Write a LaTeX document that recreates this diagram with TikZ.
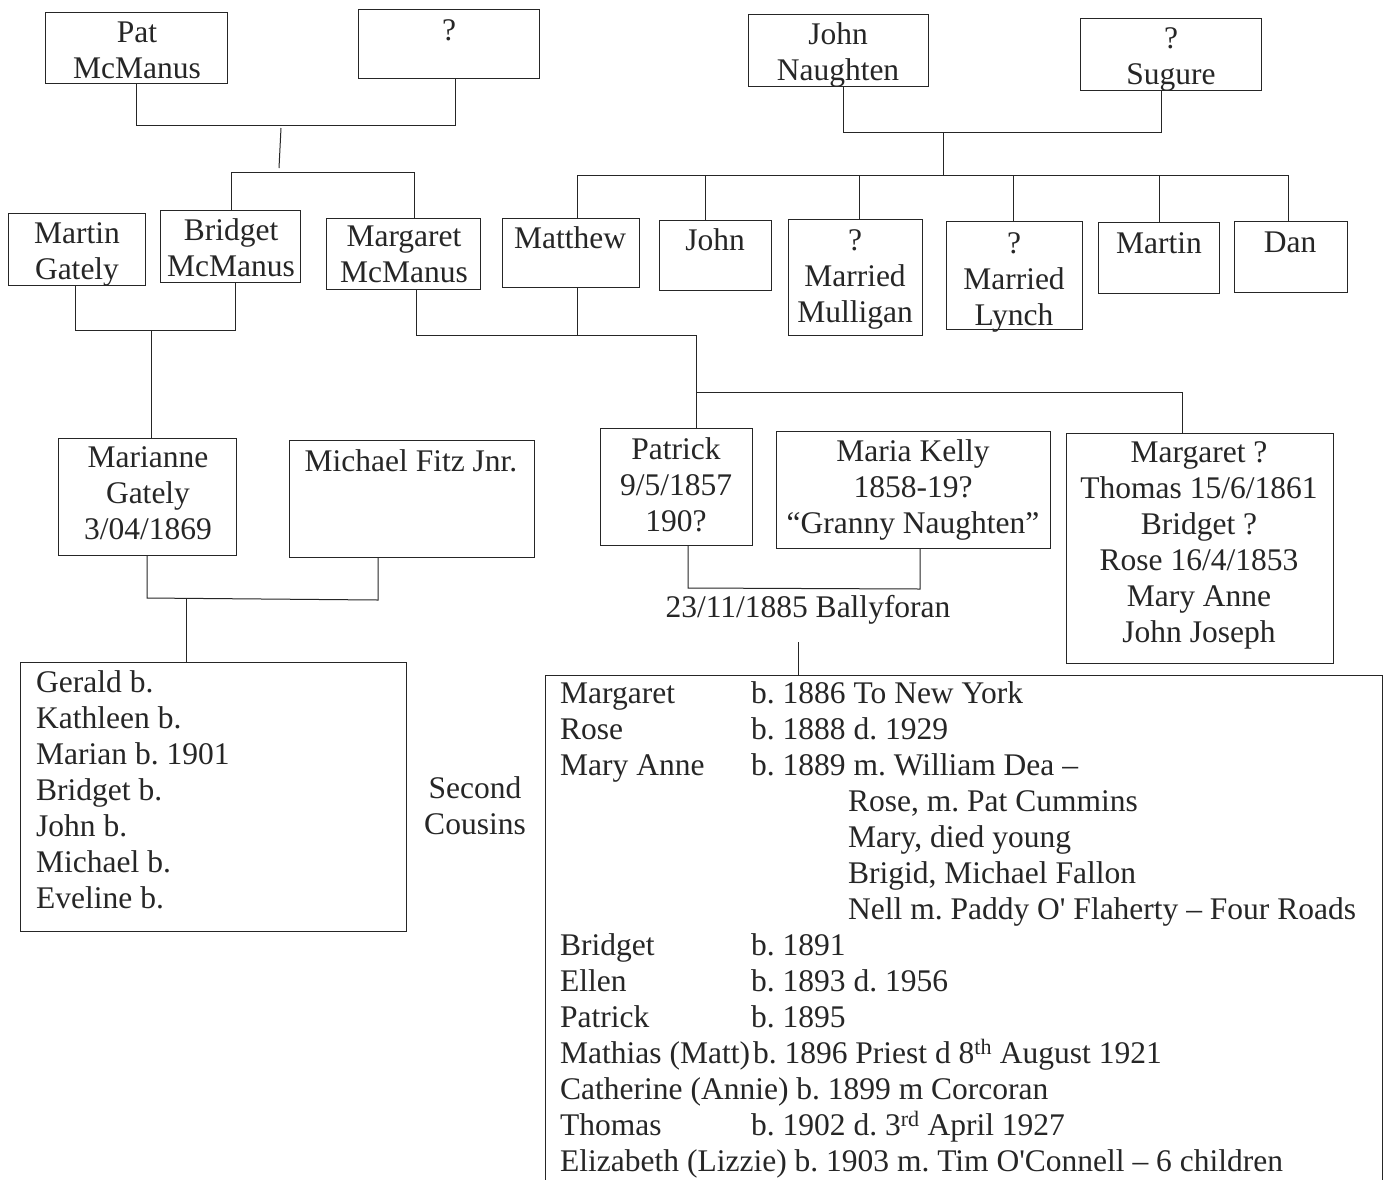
\documentclass[tikz,border=0pt]{standalone}
\usepackage{fontspec}
\setmainfont{Liberation Serif}
\usetikzlibrary{fit}
\definecolor{ink}{HTML}{262626}
\newcommand\fs{\fontsize{31.5}{36}\selectfont\frenchspacing}
\begin{document}
\begin{tikzpicture}[x=1pt,y=-1pt,
 box/.style={draw=ink, line width=1pt, inner sep=0pt},
 txt/.style={anchor=north, inner sep=0pt, align=center, font=\fs, text=ink},
 ltxt/.style={anchor=north west, inner sep=0pt, align=left, font=\fs, text=ink},
 link/.style={draw=ink, line width=1pt}]
\useasboundingbox (0,0) rectangle (1390,1179);
\clip (0,0) rectangle (1390,1179);
\fill[white] (0,0) rectangle (1390,1179);

% ---------- boxes ----------
\node[box, fit={(45,12) (227,83)}] (pat) {};
\node[box, fit={(358,9) (539,78)}] (q) {};
\node[box, fit={(748,14) (928,86)}] (johnN) {};
\node[box, fit={(1080,18) (1261,90)}] (sugure) {};
\node[box, fit={(8,213) (145,285)}] (martin) {};
\node[box, fit={(160,210) (300,282)}] (bridget) {};
\node[box, fit={(326,218) (480,289)}] (margaret) {};
\node[box, fit={(502,218) (639,287)}] (matthew) {};
\node[box, fit={(659,220) (771,290)}] (johnC) {};
\node[box, fit={(788,219) (922,335)}] (mulligan) {};
\node[box, fit={(946,221) (1082,329)}] (lynch) {};
\node[box, fit={(1098,222) (1219,293)}] (martinC) {};
\node[box, fit={(1234,221) (1347,292)}] (dan) {};
\node[box, fit={(58,438) (236,555)}] (marianne) {};
\node[box, fit={(289,440) (534,557)}] (michael) {};
\node[box, fit={(600,428) (752,545)}] (patrick) {};
\node[box, fit={(776,431) (1050,548)}] (maria) {};
\node[box, fit={(1066,433) (1333,663)}] (sibs) {};
\node[box, fit={(20,662) (406,931)}] (kids) {};
\node[box, fit={(545,675) (1382,1200)}] (big) {};

% ---------- texts ----------
\node[txt] (pat-t) at (137,16.8) {\strut Pat\\McManus};
\node[txt] (q-t) at (449,14.8) {\strut ?};
\node[txt] (jn-t) at (838,18.8) {\strut John\\Naughten};
\node[txt] (su-t) at (1171,22.8) {\strut ?\\Sugure};
\node[txt] (ma-t) at (77,217.8) {\strut Martin\\Gately};
\node[txt] (br-t) at (231,214.8) {\strut Bridget\\McManus};
\node[txt] (mg-t) at (404,220.8) {\strut Margaret\\McManus};
\node[txt] (mt-t) at (570,222.8) {\strut Matthew};
\node[txt] (jc-t) at (715,224.8) {\strut John};
\node[txt] (mu-t) at (855,224.8) {\strut ?\\Married\\Mulligan};
\node[txt] (ly-t) at (1014,227.8) {\strut ?\\Married\\Lynch};
\node[txt] (mc-t) at (1159,227.8) {\strut Martin};
\node[txt] (dn-t) at (1290,226.8) {\strut Dan};
\node[txt] (mr-t) at (148,441.8) {\strut Marianne\\Gately\\3/04/1869};
\node[txt] (mi-t) at (411,445.8) {\strut Michael Fitz Jnr.};
\node[txt] (pa-t) at (676,433.8) {\strut Patrick\\9/5/1857\\190?};
\node[txt] (mk-t) at (913,435.8) {\strut Maria Kelly\\1858-19?\\“Granny Naughten”};
\node[txt] (sb-t) at (1199,436.8) {\strut Margaret ?\\Thomas 15/6/1861\\Bridget ?\\Rose 16/4/1853\\Mary Anne\\John Joseph};
\node[txt] (date) at (808,591.8) {\strut 23/11/1885 Ballyforan};
\node[txt] (sc) at (475,772.8) {\strut Second\\Cousins};
\node[ltxt] (kids-t) at (36,666.8) {\strut Gerald b.\\Kathleen b.\\Marian b. 1901\\Bridget b.\\John b.\\Michael b.\\Eveline b.};
\node[ltxt] (big-t) at (560,677.8) {\strut\makebox[191pt][l]{Margaret}b. 1886 To New York\\
\makebox[191pt][l]{Rose}b. 1888 d. 1929\\
\makebox[191pt][l]{Mary Anne}b. 1889 m. William Dea –\\
\hspace*{288pt}Rose, m. Pat Cummins\\
\hspace*{288pt}Mary, died young\\
\hspace*{288pt}Brigid, Michael Fallon\\
\hspace*{288pt}Nell m. Paddy O\textquotesingle{} Flaherty – Four Roads\\
\makebox[191pt][l]{Bridget}b. 1891\\
\makebox[191pt][l]{Ellen}b. 1893 d. 1956\\
\makebox[191pt][l]{Patrick}b. 1895\\
Mathias (Matt)\hspace{3pt}b. 1896 Priest d 8\textsuperscript{th} August 1921\\
Catherine (Annie) b. 1899 m Corcoran\\
\makebox[191pt][l]{Thomas}b. 1902 d. 3\textsuperscript{rd} April 1927\\
Elizabeth (Lizzie) b. 1903 m. Tim O\textquotesingle Connell – 6 children};

% ---------- connectors: McManus side ----------
\coordinate (j1) at (455,125);
\draw[link] (pat.south) |- (j1) -- (j1 |- q.south);
\coordinate (s1) at (281,128);
\coordinate (s2) at (279,168);
\draw[link] (s1) -- (s2);
\coordinate (b1) at (231,172);
\coordinate (b2) at (414,172);
\draw[link] (b1 |- bridget.north) -- (b1) -- (b2) -- (b2 |- margaret.north);
\coordinate (mg1) at (75,330);
\coordinate (mg2) at (235,330);
\coordinate (mg3) at (151,330);
\draw[link] (mg1 |- martin.south) -- (mg1) -- (mg2) -- (mg2 |- bridget.south);
\draw[link] (mg3) -- (mg3 |- marianne.north);
\coordinate (mf1) at (147,598);
\coordinate (mf2) at (378,600);
\coordinate (mf3) at (186,599);
\draw[link] (mf1 |- marianne.south) -- (mf1) -- (mf2) -- (mf2 |- michael.south);
\draw[link] (mf3) -- (mf3 |- kids.north);

% ---------- connectors: Naughten side ----------
\coordinate (jn1) at (843,132);
\coordinate (jn2) at (1161,132);
\coordinate (jn3) at (943,132);
\coordinate (jn4) at (943,175);
\draw[link] (jn1 |- johnN.south) -- (jn1) -- (jn2) -- (jn2 |- sugure.south);
\draw[link] (jn3) -- (jn4);
\coordinate (r1) at (577,175);
\coordinate (r2) at (705,175);
\coordinate (r3) at (859,175);
\coordinate (r4) at (1013,175);
\coordinate (r5) at (1159,175);
\coordinate (r6) at (1288,175);
\draw[link] (r1) -- (r6);
\draw[link] (r1) -- (r1 |- matthew.north);
\draw[link] (r2) -- (r2 |- johnC.north);
\draw[link] (r3) -- (r3 |- mulligan.north);
\draw[link] (r4) -- (r4 |- lynch.north);
\draw[link] (r5) -- (r5 |- martinC.north);
\draw[link] (r6) -- (r6 |- dan.north);

\coordinate (mm1) at (416,335);
\coordinate (mm2) at (696,335);
\coordinate (mm3) at (577,335);
\draw[link] (mm1 |- margaret.south) -- (mm1) -- (mm2) -- (mm2 |- patrick.north);
\draw[link] (mm3 |- matthew.south) -- (mm3);
\coordinate (sb1) at (696,392);
\coordinate (sb2) at (1182,392);
\draw[link] (sb1) -- (sb2) -- (sb2 |- sibs.north);

\coordinate (pk1) at (688,588);
\coordinate (pk2) at (920,589);
\draw[link] (pk1 |- patrick.south) -- (pk1) -- (pk2) -- (pk2 |- maria.south);
\coordinate (d1) at (798,642);
\draw[link] (d1) -- (d1 |- big.north);
\end{tikzpicture}
\end{document}
